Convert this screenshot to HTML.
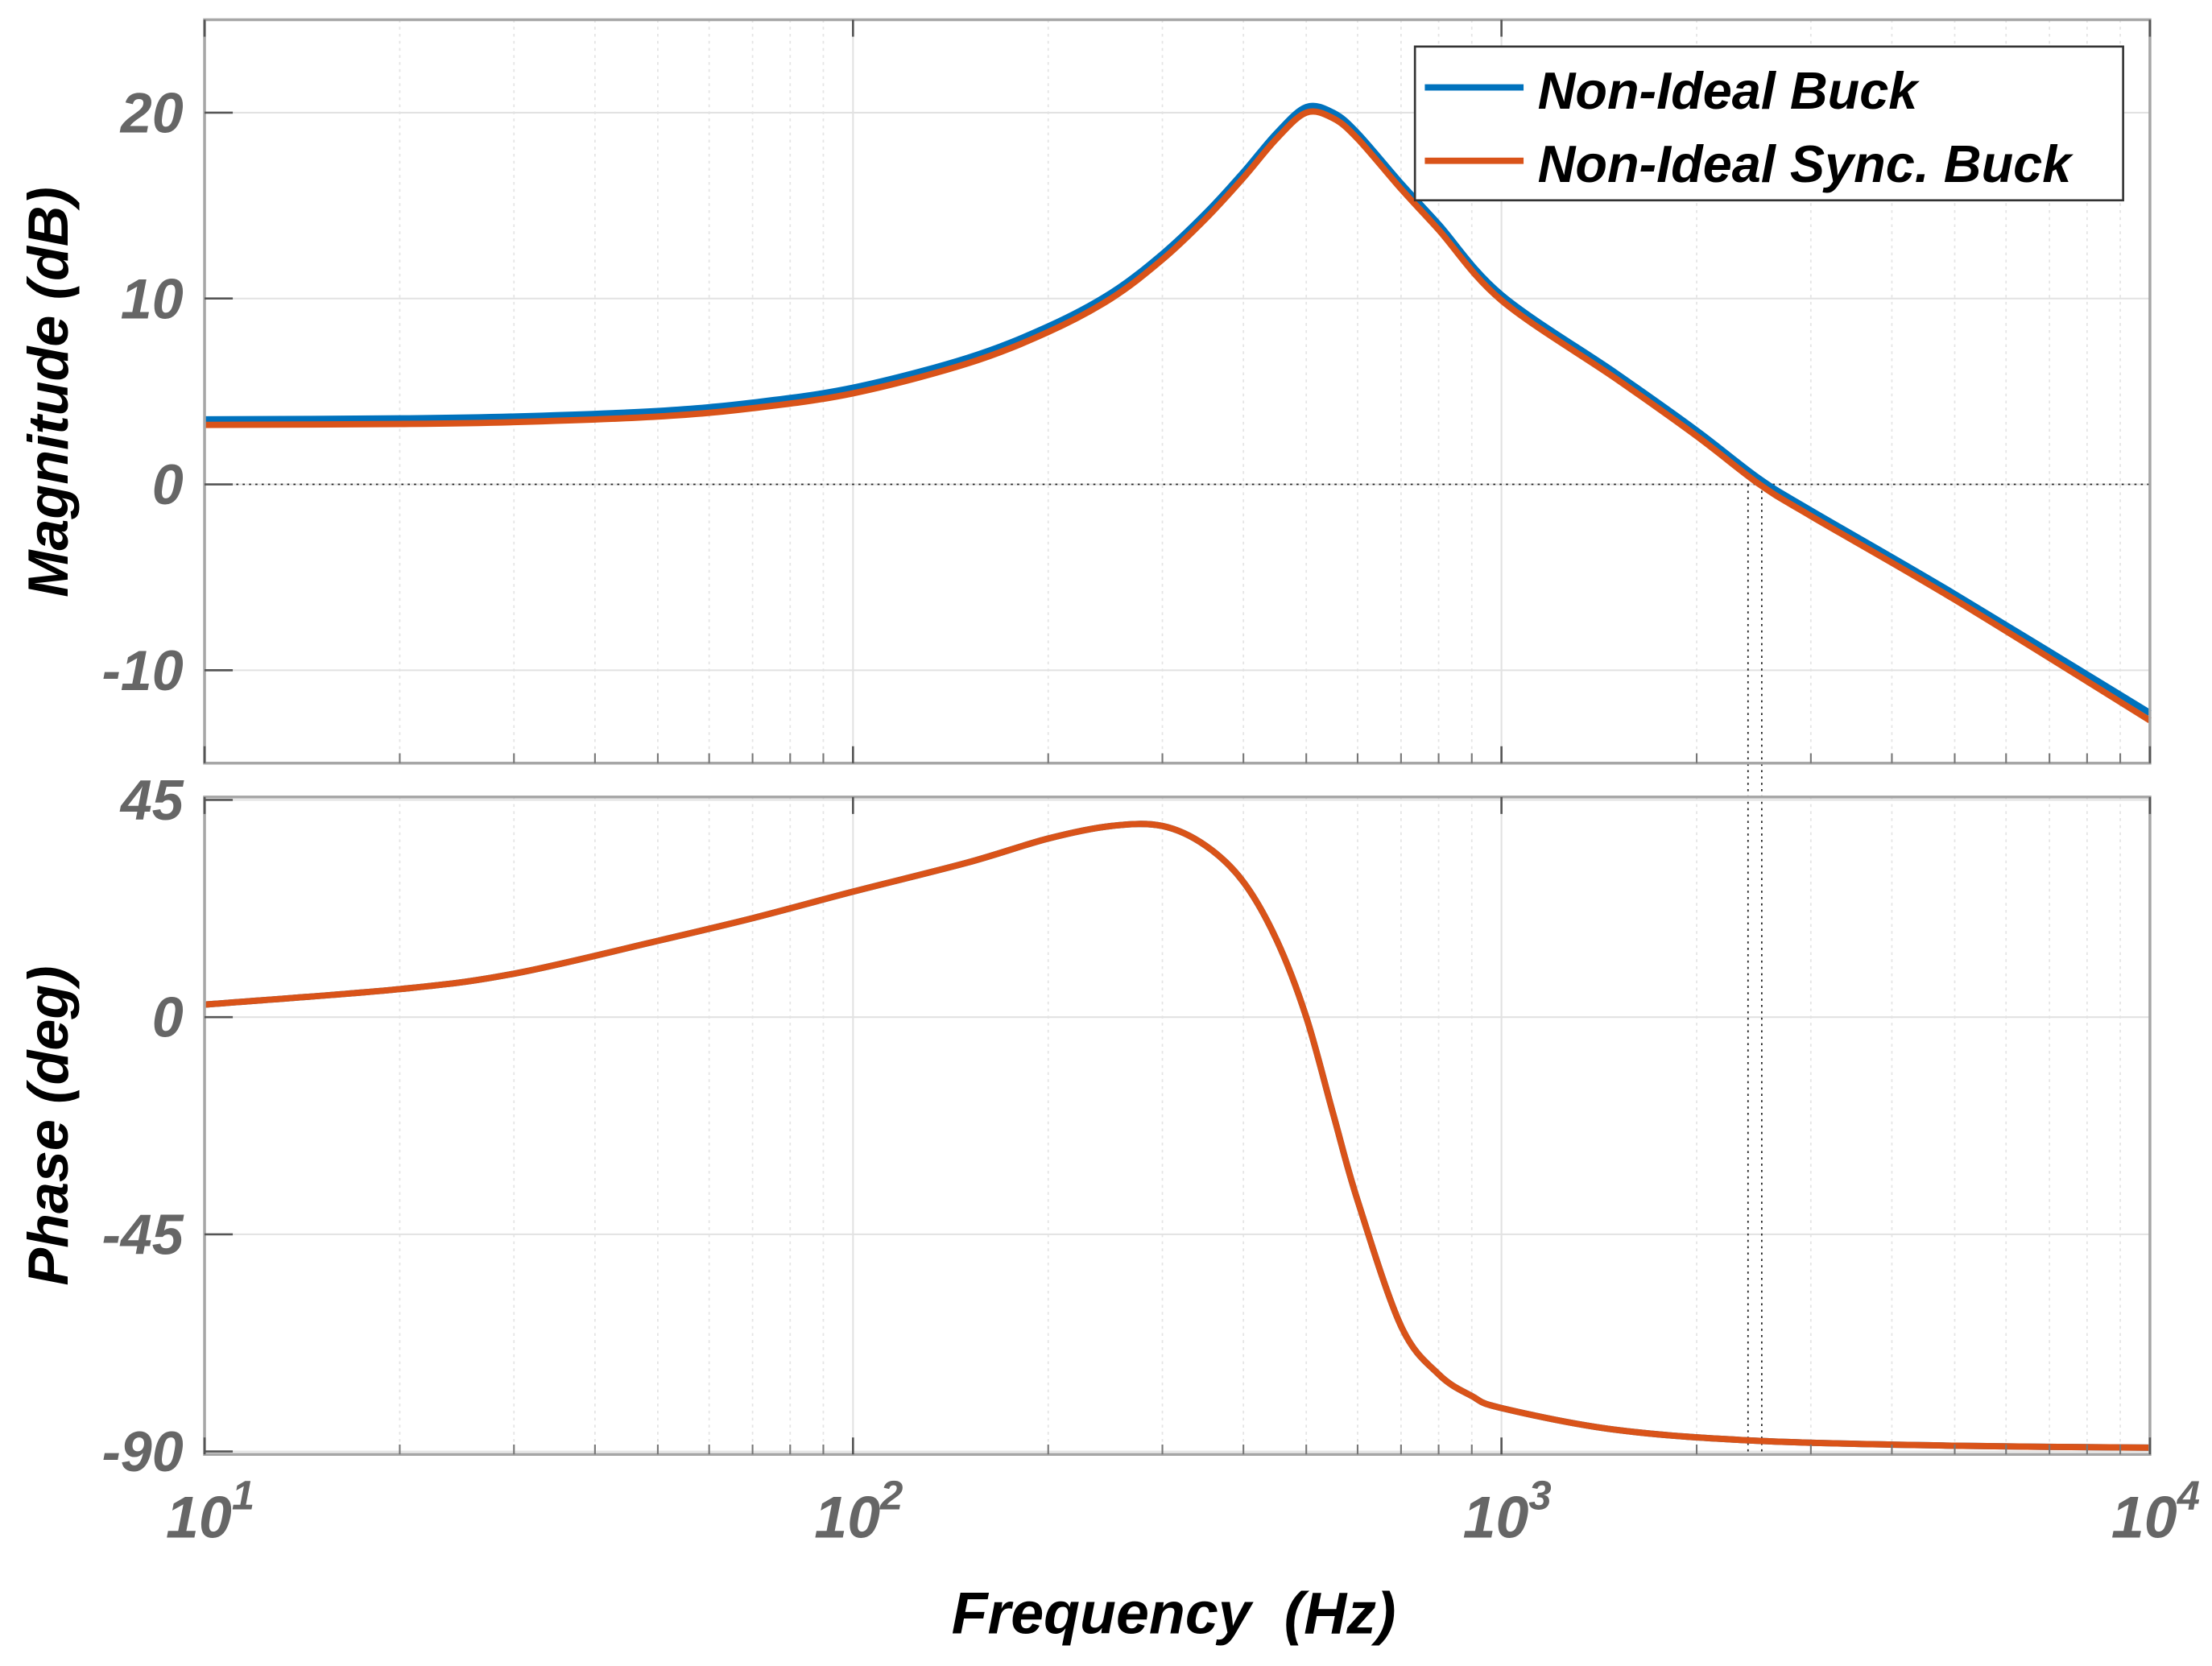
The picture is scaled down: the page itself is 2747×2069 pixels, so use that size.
<!DOCTYPE html>
<html><head><meta charset="utf-8"><style>
html,body{margin:0;padding:0;background:#fff;}
svg{display:block;font-family:"Liberation Sans",Arial,sans-serif;}
</style></head>
<body>
<svg id="chart" width="2747" height="2069" viewBox="0 0 1568 1181" xmlns="http://www.w3.org/2000/svg">
<g id="grid"></g>
<g id="marks"></g>
<g id="axes"></g>
</svg>
<script>
const freqs = [10,20,30,50,70,100,150,200,250,300,350,400,450,500,550,600,700,800,1000,1500,2000,2500,3000,5000,10000];
const magBuck = [3.5,3.55,3.65,3.95,4.4,5.2,6.8,8.5,10.3,12.4,14.6,16.8,18.9,20.3,20.0,18.9,16.2,14.0,10.2,6.0,2.9,0.3,-1.4,-5.9,-12.3];
const magSync = [3.2,3.25,3.35,3.65,4.1,4.9,6.5,8.2,10.0,12.1,14.3,16.5,18.6,20.0,19.7,18.6,15.9,13.7,9.9,5.7,2.6,0.0,-1.7,-6.2,-12.7];
const phaseFreqs = [10,20,30,50,70,100,150,200,250,300,350,400,450,500,550,600,700,800,900,1000,1500,2500,5000,10000];
const phase = [2.6,5.8,9,15.8,20.5,26,32,37,39.6,39.6,35.5,28,16,0,-20,-38,-64,-74,-78.5,-81,-85.5,-87.8,-88.8,-89.2];
const magTicks = [20,10,0,-10];
const phaseTicks = [45,0,-45,-90];
const decades = [1,2,3,4];
const crossFreqs = [2400,2520];

const NS="http://www.w3.org/2000/svg";
const L=145,R=1524;
const top1=14,bot1=541,top2=565,bot2=1031;
const xs=f=>L+(Math.log10(f)-1)/3*(R-L);
const ym=v=>top1+(25-v)/40*(bot1-top1);
const yp=v=>top2+(45.6-v)/136.2*(bot2-top2);
function el(tag,attrs,parent,text){const e=document.createElementNS(NS,tag);for(const k in attrs)e.setAttribute(k,attrs[k]);if(text!==undefined)e.textContent=text;parent.appendChild(e);return e;}
const grid=document.getElementById('grid'),marks=document.getElementById('marks'),axes=document.getElementById('axes');

[[top1,bot1],[top2,bot2]].forEach(([t,b])=>{
  for(let d=1;d<=3;d++){for(let m=2;m<=9;m++){const x=xs(m*Math.pow(10,d));
    const g=el('line',{x1:x,x2:x,y1:t,y2:b,stroke:'#e4e4e4','stroke-width':1,'stroke-dasharray':'2 3'},grid);
    
    }}
  decades.forEach(d=>{const x=xs(Math.pow(10,d));
    const g=el('line',{x1:x,x2:x,y1:t,y2:b,stroke:'#e2e2e2','stroke-width':1.2},grid);
    
    });
});
magTicks.forEach(v=>{const g=el('line',{x1:L,x2:R,y1:ym(v),y2:ym(v),stroke:'#e2e2e2','stroke-width':1.2},grid);
  
  });
phaseTicks.forEach(v=>{const g=el('line',{x1:L,x2:R,y1:yp(v),y2:yp(v),stroke:'#e2e2e2','stroke-width':1.2},grid);
  
  });
const zl=el('line',{x1:L,x2:R,y1:ym(0),y2:ym(0),stroke:'#222','stroke-width':1,'stroke-dasharray':'1.5 3'},grid);


crossFreqs.forEach(f=>{const x=xs(f);
  const c=el('line',{x1:x,x2:x,y1:ym(0),y2:bot2,stroke:'#222','stroke-width':1,'stroke-dasharray':'1.5 3'},grid);
  
  });

function pathFor(fx,vals,ymap){
  const p=fx.map((f,i)=>[xs(f),ymap(vals[i])]);
  let d='M'+p[0][0]+','+p[0][1];
  for(let i=0;i<p.length-1;i++){const p0=p[Math.max(0,i-1)],p1=p[i],p2=p[i+1],p3=p[Math.min(p.length-1,i+2)];
    const c1=[p1[0]+(p2[0]-p0[0])/6,p1[1]+(p2[1]-p0[1])/6],c2=[p2[0]-(p3[0]-p1[0])/6,p2[1]-(p3[1]-p1[1])/6];
    d+=` C${c1[0]},${c1[1]} ${c2[0]},${c2[1]} ${p2[0]},${p2[1]}`;}
  return d;
}
const s1=el('path',{d:pathFor(freqs,magBuck,ym),fill:'none',stroke:'#0072BD','stroke-width':4.5},marks);


const s2=el('path',{d:pathFor(freqs,magSync,ym),fill:'none',stroke:'#D95319','stroke-width':4.5},marks);


const s3=el('path',{d:pathFor(phaseFreqs,phase,yp),fill:'none',stroke:'#0072BD','stroke-width':4.5},marks);


const s4=el('path',{d:pathFor(phaseFreqs,phase,yp),fill:'none',stroke:'#D95319','stroke-width':4.5},marks);



[[top1,bot1,'magnitude-axes'],[top2,bot2,'phase-axes']].forEach(([t,b,n])=>{
  const r=el('rect',{x:L,y:t,width:R-L,height:b-t,fill:'none',stroke:'#a6a6a6','stroke-width':2},axes);
  
  
  decades.forEach(d=>{const x=xs(Math.pow(10,d));
    el('line',{x1:x,x2:x,y1:b,y2:b-12,stroke:'#555','stroke-width':1.5},axes);
    el('line',{x1:x,x2:x,y1:t,y2:t+12,stroke:'#555','stroke-width':1.5},axes);});
  for(let d=1;d<=3;d++)for(let m=2;m<=9;m++){const x=xs(m*Math.pow(10,d));
    el('line',{x1:x,x2:x,y1:b,y2:b-7,stroke:'#777','stroke-width':1.2},axes);}
});
magTicks.forEach(v=>{el('line',{x1:L,x2:L+20,y1:ym(v),y2:ym(v),stroke:'#555','stroke-width':1.5},axes);
  const t=el('text',{x:130,y:ym(v)+14,'text-anchor':'end','font-size':40,'font-weight':'bold','font-style':'italic',fill:'#666'},axes,String(v));
  
  });
phaseTicks.forEach(v=>{el('line',{x1:L,x2:L+20,y1:yp(v),y2:yp(v),stroke:'#555','stroke-width':1.5},axes);
  const t=el('text',{x:130,y:yp(v)+14,'text-anchor':'end','font-size':40,'font-weight':'bold','font-style':'italic',fill:'#666'},axes,String(v));
  
  });
decades.forEach(d=>{const x=xs(Math.pow(10,d));
  const t=el('text',{x:x+4,y:1090,'text-anchor':'middle','font-size':42,'font-weight':'bold','font-style':'italic',fill:'#666'},axes);
  
  
  el('tspan',{},t,'10');
  el('tspan',{dy:-20,'font-size':29},t,String(d));});
</script>
<svg style="position:absolute;left:0;top:0" width="2747" height="2069" viewBox="0 0 1568 1181" xmlns="http://www.w3.org/2000/svg" font-family="Liberation Sans, Arial, sans-serif">
<text transform="translate(48,278) rotate(-90)" text-anchor="middle" font-size="40" font-weight="bold" font-style="italic" fill="#000">Magnitude (dB)</text>
<text transform="translate(48,798) rotate(-90)" text-anchor="middle" font-size="40" font-weight="bold" font-style="italic" fill="#000">Phase (deg)</text>
<text x="832" y="1158" text-anchor="middle" font-size="42" font-weight="bold" font-style="italic" fill="#000" xml:space="preserve">Frequency  (Hz)</text>
<g>
<rect x="1003" y="33" width="502" height="109" fill="#fff" stroke="#333" stroke-width="1.5"/>
<line x1="1010" x2="1080" y1="62" y2="62" stroke="#0072BD" stroke-width="4.5"/>
<text x="1090" y="77" font-size="37" font-weight="bold" font-style="italic">Non-Ideal Buck</text>
<line x1="1010" x2="1080" y1="114" y2="114" stroke="#D95319" stroke-width="4.5"/>
<text x="1090" y="129" font-size="37" font-weight="bold" font-style="italic">Non-Ideal Sync. Buck</text>
</g>
</svg>
</body></html>
